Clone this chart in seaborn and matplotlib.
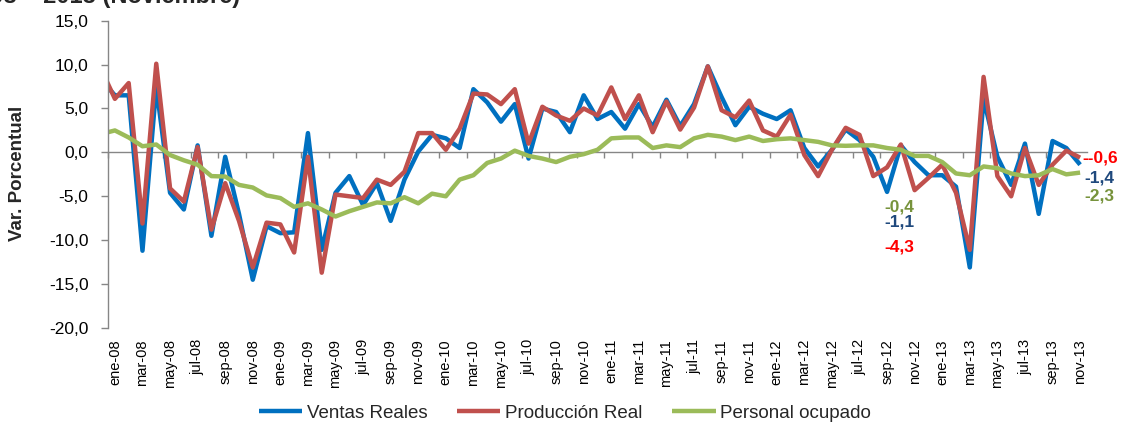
import numpy as np
import pandas as pd
import matplotlib
matplotlib.use("Agg")
import matplotlib.pyplot as plt
from matplotlib.ticker import FuncFormatter
import seaborn as sns

# ---------------- data ----------------
meses = ['ene', 'feb', 'mar', 'abr', 'may', 'jun', 'jul', 'ago', 'sep', 'oct', 'nov', 'dic']
categorias = ['dic-07'] + [f'{m}-{a:02d}' for a in range(8, 14) for m in meses][:71]

ventas_reales = [
    8.3,
    6.5, 6.5, -11.2, 7.5, -4.6, -6.5, 0.8, -9.5, -0.5, -7.0, -14.5, -8.4,
    -9.2, -9.1, 2.2, -11.1, -4.6, -2.7, -6.0, -3.5, -7.8, -3.1, 0.1, 2.0,
    1.6, 0.5, 7.2, 5.7, 3.5, 5.5, -0.7, 5.0, 4.6, 2.3, 6.5, 3.8,
    4.6, 2.7, 5.5, 2.9, 6.0, 3.0, 5.5, 9.8, 6.3, 3.1, 5.2, 4.4,
    3.8, 4.8, 0.5, -1.6, 0.3, 2.6, 1.4, -0.5, -4.5, 0.8, -1.1, -2.6,
    -2.6, -3.9, -13.1, 6.1, -0.5, -3.7, 1.0, -7.0, 1.3, 0.5, -1.4,
]
produccion_real = [
    9.5,
    6.1, 7.9, -8.1, 10.1, -4.1, -5.6, 0.6, -8.8, -3.5, -7.8, -13.1, -8.0,
    -8.2, -11.4, -0.5, -13.7, -4.8, -5.0, -5.2, -3.1, -3.7, -2.2, 2.2, 2.2,
    0.3, 2.7, 6.7, 6.6, 5.5, 7.2, 1.0, 5.2, 4.2, 3.6, 5.0, 4.2,
    7.4, 3.8, 6.5, 2.3, 5.8, 2.6, 5.1, 9.8, 4.8, 4.0, 5.9, 2.5,
    1.8, 4.3, -0.3, -2.7, 0.3, 2.8, 2.0, -2.7, -1.7, 0.9, -4.3, -2.9,
    -1.4, -4.6, -11.1, 8.6, -2.7, -5.0, 0.5, -3.7, -1.4, 0.2, -0.6,
]
personal_ocupado = [
    2.1,
    2.5, 1.7, 0.7, 0.9, -0.3, -0.9, -1.4, -2.7, -2.75, -3.7, -4.0, -4.9,
    -5.2, -6.2, -5.8, -6.5, -7.3, -6.7, -6.2, -5.7, -5.8, -5.1, -5.8, -4.7,
    -5.0, -3.1, -2.6, -1.2, -0.7, 0.2, -0.4, -0.7, -1.1, -0.5, -0.2, 0.3,
    1.6, 1.7, 1.7, 0.5, 0.8, 0.6, 1.6, 2.0, 1.8, 1.4, 1.8, 1.3,
    1.5, 1.6, 1.4, 1.2, 0.8, 0.75, 0.8, 0.8, 0.5, 0.3, -0.4, -0.4,
    -1.1, -2.4, -2.6, -1.6, -1.8, -2.4, -2.7, -2.6, -1.9, -2.5, -2.3,
]
series_nombres = ['Ventas Reales', 'Producción Real', 'Personal ocupado']

# ---------------- style ----------------
AZUL = '#0070C0'
ROJO = '#C0504D'
VERDE = '#9BBB59'
GRIS = '#868686'
colores = {'Ventas Reales': AZUL, 'Producción Real': ROJO, 'Personal ocupado': VERDE}

sns.set_theme(style='white')
plt.rcParams['font.family'] = ['Liberation Sans', 'DejaVu Sans']

W, H = 1121, 424
fig = plt.figure(figsize=(W / 100, H / 100), dpi=100)
ax = fig.add_axes([108 / W, 1 - 328 / H, (1087 - 108) / W, (328 - 20.7) / H])

x = np.arange(-1, len(categorias) - 1)
df = pd.DataFrame({
    'x': np.concatenate([x, x, x]),
    'valor': ventas_reales + produccion_real + personal_ocupado,
    'serie': np.repeat(series_nombres, len(x)),
})

for nombre in series_nombres:
    sub = df[df['serie'] == nombre]
    sns.lineplot(data=sub, x='x', y='valor', color=colores[nombre], lw=3.2,
                 ax=ax, label=nombre, sort=False)
for ln in ax.lines:
    ln.set_solid_joinstyle('round')
    ln.set_solid_capstyle('butt')

ax.set_xlim(-0.5, 70.5)
ax.set_ylim(-20, 15)

# y axis
ax.set_yticks(np.arange(-20, 16, 5))
ax.yaxis.set_major_formatter(FuncFormatter(lambda v, p: f'{v:.1f}'.replace('.', ',')))
ax.tick_params(axis='y', direction='out', length=5, width=1, color=GRIS,
               pad=9, labelsize=12.5, left=True, labelcolor='black')

# x labels (low position)
ax.set_xticks(np.arange(0, 71, 2))
ax.set_xticklabels(categorias[1::2])
ax.tick_params(axis='x', length=0, pad=8, labelsize=10.5, labelrotation=90,
               labelcolor='black')
for t in ax.get_xticklabels():
    t.set_va('top')
    t.set_ha('center')

for s in ['top', 'right', 'bottom']:
    ax.spines[s].set_visible(False)
ax.spines['left'].set_color(GRIS)
ax.spines['left'].set_linewidth(1)

# horizontal axis at zero with ticks between categories
sec = ax.secondary_xaxis(0, transform=ax.transData)
sec.set_alignment('bottom')
sec.set_xticks(np.arange(-0.5, 71, 2))
sec.tick_params(axis='x', direction='out', length=4, width=1, color=GRIS,
                labelbottom=False, labeltop=False)
for s in sec.spines.values():
    s.set_color(GRIS)
    s.set_linewidth(1)

ax.set_xlabel('')
ax.set_ylabel('')
ax.legend_.remove()

# annotations
def fmt(v):
    return f'{v:.1f}'.replace('.', ',')

i_nov12 = categorias.index('nov-12')
i_fin = len(categorias) - 1
ax.text(56.9, -6.2, fmt(personal_ocupado[i_nov12]), color='#77933C',
        weight='bold', ha='center', va='center', fontsize=12.5)
ax.text(56.9, -7.95, fmt(ventas_reales[i_nov12]), color='#1F497D',
        weight='bold', ha='center', va='center', fontsize=12.5)
ax.text(56.9, -10.8, fmt(produccion_real[i_nov12]), color='#FF0000',
        weight='bold', ha='center', va='center', fontsize=12.5)
ax.text(70.2, -0.65, '-' + fmt(produccion_real[i_fin]), color='#FF0000',
        weight='bold', ha='left', va='center', fontsize=12.5, clip_on=False)
ax.text(70.3, -2.9, fmt(ventas_reales[i_fin]), color='#1F497D',
        weight='bold', ha='left', va='center', fontsize=12.5, clip_on=False)
ax.text(70.3, -5.0, fmt(personal_ocupado[i_fin]), color='#77933C',
        weight='bold', ha='left', va='center', fontsize=12.5, clip_on=False)

# y label
fig.text(18 / W, 1 - 173 / H, 'Var. Porcentual', rotation=90, ha='center',
         va='center', fontsize=13.5, weight='bold')

# clipped title at the top
fig.text(240 / W, 1 - 3.5 / H, '2008 – 2013 (Noviembre)', ha='right',
         va='baseline', fontsize=17, weight='bold')

# legend
handles, labels = ax.get_legend_handles_labels()
fig.legend(handles, labels, loc='center', bbox_to_anchor=(0.504, 1 - 413 / H),
           ncol=3, frameon=False, fontsize=13.5, handlelength=2.3,
           handletextpad=0.25, columnspacing=1.6)

fig.savefig('out.png', dpi=100)
